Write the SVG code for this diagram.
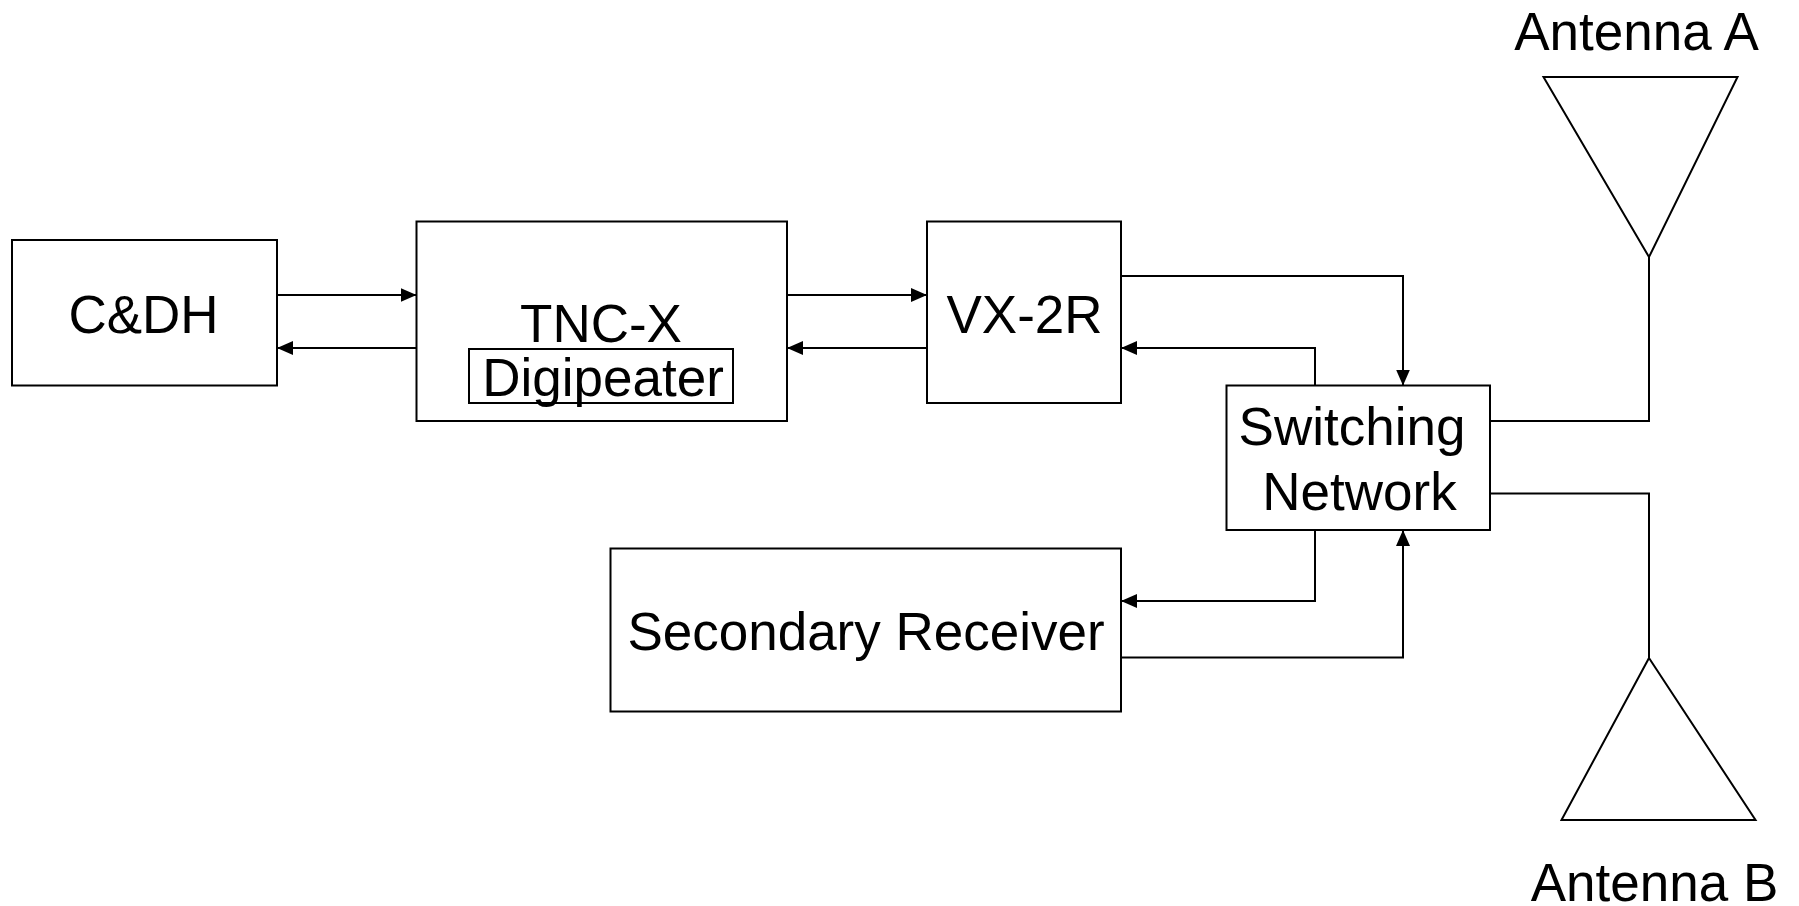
<svg xmlns="http://www.w3.org/2000/svg" width="1799" height="906" viewBox="0 0 1799 906">
<style>
.box{fill:#fff;stroke:#000;stroke-width:2}
.lbl{font-family:"Liberation Sans",Arial,sans-serif;font-size:53px;fill:#000;text-anchor:middle}
.con{fill:none;stroke:#000;stroke-width:2}
</style>
<defs>
<marker id="ah" markerUnits="userSpaceOnUse" markerWidth="16" markerHeight="14" refX="16" refY="7" orient="auto">
<path d="M0,0 L16,7 L0,14 z" fill="#000"/>
</marker>
</defs>
<rect width="1799" height="906" fill="#fff"/>
<g id="connectors">
<path class="con" d="M277,295 H416.5" marker-end="url(#ah)"/>
<path class="con" d="M416.5,348 H277" marker-end="url(#ah)"/>
<path class="con" d="M787,295 H927" marker-end="url(#ah)"/>
<path class="con" d="M927,348 H787" marker-end="url(#ah)"/>
<path class="con" d="M1121,276 H1403 V385.5" marker-end="url(#ah)"/>
<path class="con" d="M1315,385.5 V348 H1121" marker-end="url(#ah)"/>
<path class="con" d="M1315,530 V601 H1121" marker-end="url(#ah)"/>
<path class="con" d="M1121,657.5 H1403 V530" marker-end="url(#ah)"/>
<path class="con" d="M1490,421 H1649 V257"/>
<path class="con" d="M1490,493.5 H1649 V658"/>
</g>
<g id="cdh">
<rect class="box" x="12" y="240" width="265" height="145.5"/>
<text class="lbl" x="143.5" y="333">C&amp;DH</text>
</g>
<g id="tncx">
<rect class="box" x="416.5" y="221.5" width="370.5" height="199.5"/>
<text class="lbl" x="601" y="342">TNC-X</text>
<g id="digipeater">
<rect class="box" x="469" y="349" width="264" height="54"/>
<text class="lbl" x="603" y="396">Digipeater</text>
</g>
</g>
<g id="vx2r">
<rect class="box" x="927" y="221.5" width="194" height="181.5"/>
<text class="lbl" x="1024.5" y="333">VX-2R</text>
</g>
<g id="switching">
<rect class="box" x="1226.5" y="385.5" width="263.5" height="144.5"/>
<text class="lbl" x="1352" y="445">Switching</text>
<text class="lbl" x="1359.5" y="510">Network</text>
</g>
<g id="secondary">
<rect class="box" x="610.5" y="548.5" width="510.5" height="163"/>
<text class="lbl" x="866" y="650">Secondary Receiver</text>
</g>
<g id="antennaA">
<polygon class="box" points="1543.5,77 1737.5,77 1649,257"/>
<text class="lbl" x="1636.5" y="50">Antenna A</text>
</g>
<g id="antennaB">
<polygon class="box" points="1649,658 1755.5,820 1561.5,820"/>
<text class="lbl" x="1654.5" y="901">Antenna B</text>
</g>
</svg>
